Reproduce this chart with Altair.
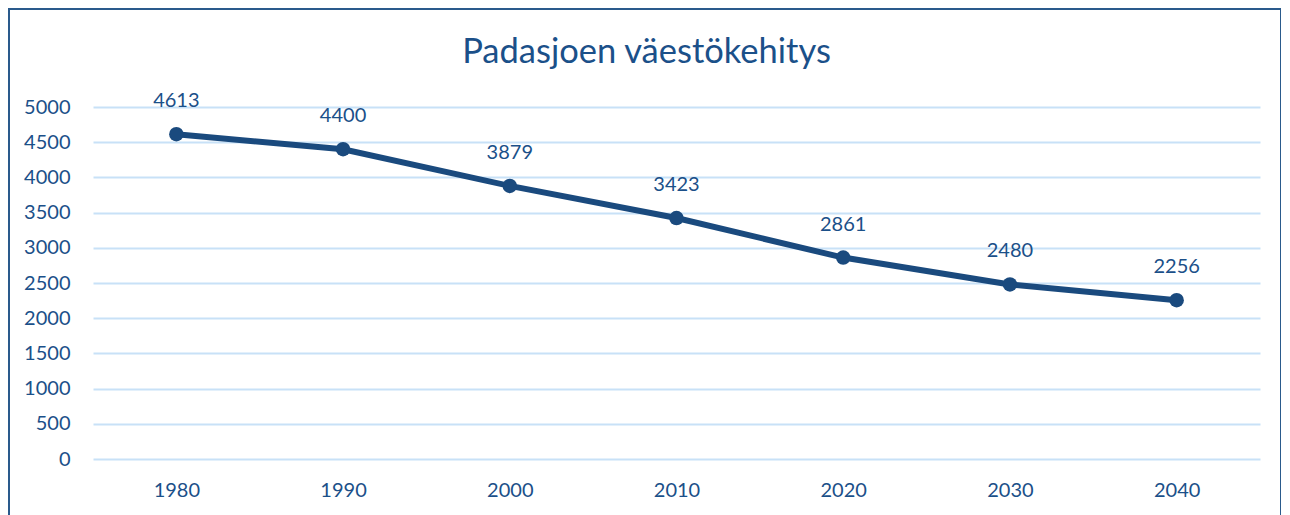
import altair as alt
import pandas as pd

years = ["1980", "1990", "2000", "2010", "2020", "2030", "2040"]
population = [4613, 4400, 3879, 3423, 2861, 2480, 2256]
chart_title = "Padasjoen väestökehitys"

df = pd.DataFrame({"year": years, "pop": population})

TEXT = "#1b5089"
LINE = "#1a4a7e"
GRID = "#c8e1f7"
FONT = "Lato"
FS = 20

W, H = 1167, 352
PL, PT, PR, PB = 85, 99, 21, 56

x = alt.X("year:N", sort=years,
          axis=alt.Axis(title=None, labelAngle=0, ticks=False, domain=False,
                        labelPadding=21, labelFontSize=FS, labelColor=TEXT,
                        labelFont=FONT, grid=False))
y = alt.Y("pop:Q", scale=alt.Scale(domain=[0, 5000]),
          axis=alt.Axis(title=None, values=list(range(0, 5001, 500)), format="d",
                        ticks=False, domain=False, labelPadding=23,
                        labelFontSize=FS, labelColor=TEXT, labelFont=FONT,
                        gridColor=GRID, gridWidth=2))

base = alt.Chart(df)

line = base.mark_line(color=LINE, strokeWidth=6).encode(x=x, y=y)
points = base.mark_point(filled=True, color=LINE, size=210, opacity=1).encode(x=x, y=y)
labels = base.mark_text(dy=-33, fontSize=FS, font=FONT, color=TEXT).encode(
    x=x, y=y, text="pop:Q")

deco = alt.Chart(pd.DataFrame({"t": [chart_title]}))
border = deco.mark_rect(fill=None, stroke="#2a5a8c", strokeWidth=2).encode(
    x=alt.value(-84), x2=alt.value(1188),
    y=alt.value(-98), y2=alt.value(H + PB + 20),
)
title = deco.mark_text(fontSize=34.5, font=FONT, color=TEXT, baseline="middle",
                       align="center").encode(
    x=alt.value(W / 2 - 30), y=alt.value(-54), text="t:N")

chart = alt.layer(border, line, points, labels, title).properties(
    width=W, height=H,
    autosize=alt.AutoSizeParams(type="none"),
    padding={"left": PL, "top": PT, "right": PR, "bottom": PB},
    background="white",
).configure_view(stroke=None)

chart.save("out.html", embed_options={"renderer": "svg", "actions": False})
